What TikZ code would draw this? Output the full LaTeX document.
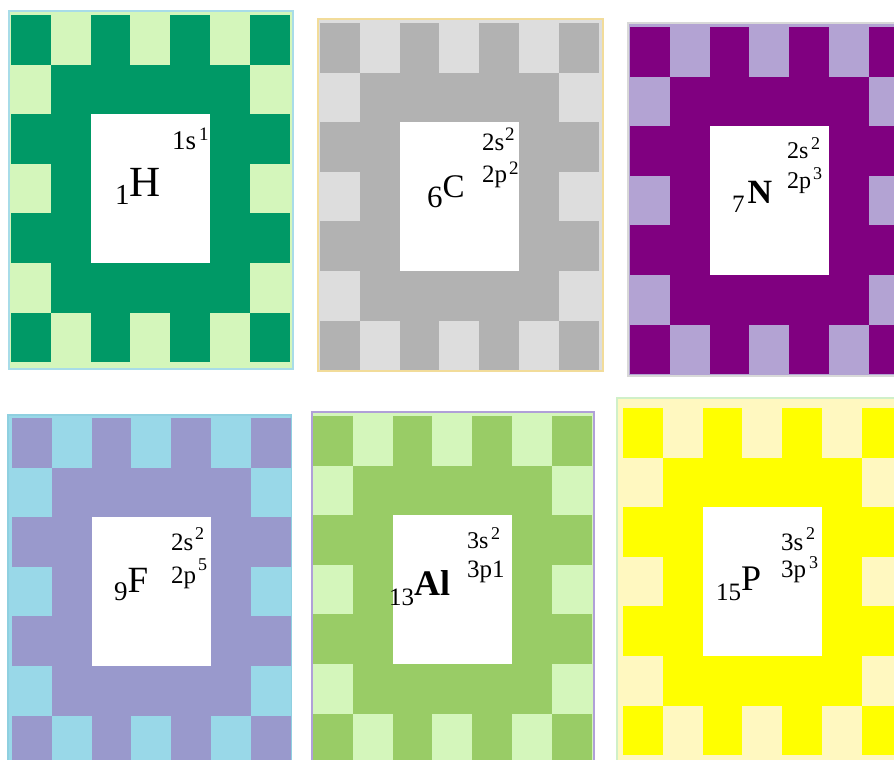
\documentclass[tikz,border=0pt]{standalone}
\usepackage{fontspec}
\setmainfont{Liberation Serif}
\usetikzlibrary{positioning}
\definecolor{HDark}{HTML}{009966}
\definecolor{HLight}{HTML}{D4F6BB}
\definecolor{HFrame}{HTML}{A8DCE8}
\definecolor{CDark}{HTML}{B2B2B2}
\definecolor{CLight}{HTML}{DDDDDD}
\definecolor{CFrame}{HTML}{F2DC9A}
\definecolor{NDark}{HTML}{800080}
\definecolor{NLight}{HTML}{B3A3D3}
\definecolor{NFrame}{HTML}{D8D8D8}
\definecolor{FDark}{HTML}{9999CC}
\definecolor{FLight}{HTML}{99D8E8}
\definecolor{FFrame}{HTML}{8FD0E0}
\definecolor{AlDark}{HTML}{99CC66}
\definecolor{AlLight}{HTML}{D4F6BB}
\definecolor{AlFrame}{HTML}{B0A0D8}
\definecolor{PDark}{HTML}{FFFF00}
\definecolor{PLight}{HTML}{FFF8C0}
\definecolor{PFrame}{HTML}{D0F0C8}
\newcommand{\fs}[1]{\fontsize{#1}{#1}\selectfont}
\newcommand{\cellw}{39.8}
\newcommand{\cellh}{49.6}
% number size, drop, number, kern, symbol size, symbol
\newcommand{\elem}[6]{{\fs{#1}\raisebox{-#2pt}{#3}}\kern#4pt{\fs{#5}#6}}
% x0, y0, dark, light, frame colour, frame corners
\newcommand{\tile}[7]{%
  \filldraw[fill=#4,draw=#5,line width=1.2pt] (#6) rectangle (#7);
  \fill[#3] (#1,#2) rectangle ++(7*\cellw,7*\cellh);
  \foreach \k in {1,3,5}{
    \fill[#4] (#1+\k*\cellw,#2) rectangle ++(\cellw,\cellh);
    \fill[#4] (#1+\k*\cellw,#2+6*\cellh) rectangle ++(\cellw,\cellh);
    \fill[#4] (#1,#2+\k*\cellh) rectangle ++(\cellw,\cellh);
    \fill[#4] (#1+6*\cellw,#2+\k*\cellh) rectangle ++(\cellw,\cellh);
  }
  \fill[white] (#1+2*\cellw,#2+2*\cellh) rectangle ++(3*\cellw,3*\cellh);
}
\begin{document}
\begin{tikzpicture}[x=1pt,y=-1pt,txt/.style={anchor=base west,inner sep=0pt}]
  \useasboundingbox (0,0) rectangle (894,760);
  \clip (0,0) rectangle (894,760);
  \fill[white] (0,0) rectangle (894,760);
  % row one
  \tile{11}{15}{HDark}{HLight}{HFrame}{9,11}{293,369}
  \tile{320}{23}{CDark}{CLight}{CFrame}{318,19}{603,371}
  \tile{630}{27}{NDark}{NLight}{NFrame}{628,23}{910,376}
  % row two
  \tile{12}{418}{FDark}{FLight}{FFrame}{8,415}{291,780}
  \tile{313}{416}{AlDark}{AlLight}{AlFrame}{312,412}{594,780}
  \tile{623}{408}{PDark}{PLight}{PFrame}{617,398}{910,780}
  % hydrogen
  \node[txt] (hsym) at (115,196) {\elem{29}{8}{1}{0}{43}{H}};
  \node[txt,font=\fs{27}] (hcfg) at (172,149) {1s};
  \node[txt,font=\fs{19}] (hexp) at (199,140) {1};
  % carbon
  \node[txt] (csym) at (427,197) {\elem{31}{10}{6}{0}{33}{C}};
  \node[txt,font=\fs{25}] (cs) at (482,150) {2s};
  \node[txt,font=\fs{19}] (csexp) at (505,140) {2};
  \node[txt,font=\fs{25}] (cp) at (482,182) {2p};
  \node[txt,font=\fs{19}] (cpexp) at (509,174) {2};
  % nitrogen
  \node[txt] (nsym) at (732,203) {\elem{25}{9}{7}{3}{34}{\bfseries N}};
  \node[txt,font=\fs{24}] (ns) at (787,158) {2s};
  \node[txt,font=\fs{18}] (nsexp) at (811,149) {2};
  \node[txt,font=\fs{24}] (np) at (787,188) {2p};
  \node[txt,font=\fs{18}] (npexp) at (813,179) {3};
  % fluorine
  \node[txt] (fsym) at (114,592) {\elem{27}{8}{9}{0}{37}{F}};
  \node[txt,font=\fs{25}] (fs) at (171,550) {2s};
  \node[txt,font=\fs{18}] (fsexp) at (195,539) {2};
  \node[txt,font=\fs{25}] (fp) at (171,583) {2p};
  \node[txt,font=\fs{18}] (fpexp) at (198,570) {5};
  % aluminium
  \node[txt] (alsym) at (389,595) {\elem{25}{10}{13}{0}{36}{\bfseries Al}};
  \node[txt,font=\fs{24}] (als) at (467,548) {3s};
  \node[txt,font=\fs{18}] (alsexp) at (491,539) {2};
  \node[txt,font=\fs{25}] (alp) at (467,577) {3p1};
  % phosphorus
  \node[txt] (psym) at (716,590) {\elem{25}{10}{15}{0}{36}{P}};
  \node[txt,font=\fs{25}] (ps) at (781,550) {3s};
  \node[txt,font=\fs{18}] (psexp) at (806,539) {2};
  \node[txt,font=\fs{25}] (pp) at (781,577) {3p};
  \node[txt,font=\fs{18}] (ppexp) at (809,568) {3};
\end{tikzpicture}
\end{document}
